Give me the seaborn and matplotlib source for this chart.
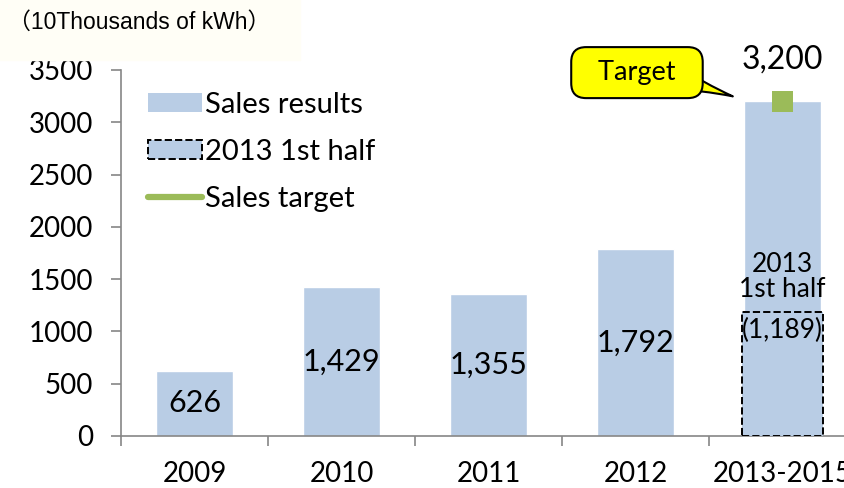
import matplotlib
matplotlib.use("Agg")
import matplotlib.pyplot as plt
from matplotlib.patches import Patch, Rectangle
from matplotlib.lines import Line2D
import pandas as pd
import seaborn as sns

categories = ["2009", "2010", "2011", "2012", "2013-2015"]
sales = [626, 1429, 1355, 1792, 3200]
sales_labels = ["626", "1,429", "1,355", "1,792", "3,200"]
half_category = "2013-2015"
half_value = 1189
half_label = "(1,189)"
target_value = 3200
y_ticks = [0, 500, 1000, 1500, 2000, 2500, 3000, 3500]

bar_color = "#B9CDE5"
green = "#9BBB59"
axis_gray = "#868686"

sns.set_theme(style="white")
plt.rcParams["font.family"] = ["Lato", "DejaVu Sans"]
plt.rcParams["text.color"] = "black"
plt.rcParams["xtick.color"] = "black"
plt.rcParams["ytick.color"] = "black"

df = pd.DataFrame({"category": categories, "sales": sales})
df_half = pd.DataFrame({"category": [half_category], "sales": [half_value]})

fig = plt.figure(figsize=(8.45, 4.88), dpi=100)
fig.patches.append(Rectangle((0, 1 - 60 / 488), 300 / 845, 60 / 488,
                             transform=fig.transFigure, color="#FFFEF6", zorder=0))
ax = fig.add_axes([121 / 845, 52 / 488, 735 / 845, 366 / 488])
ax.set_facecolor("none")

sns.barplot(data=df, x="category", y="sales", order=categories, color=bar_color,
            width=0.53, saturation=1, ax=ax, zorder=2)
sns.barplot(data=df_half, x="category", y="sales", order=categories, color=bar_color,
            width=0.55, saturation=1, ax=ax, edgecolor="black", linestyle="--",
            linewidth=1.4, zorder=3)

last = categories.index(half_category)
sns.scatterplot(x=[last], y=[target_value], marker="s", s=230, color=green,
                edgecolor="none", ax=ax, zorder=5, legend=False)

ax.set_xlim(-0.5, len(categories) - 0.5)
ax.set_ylim(0, 3500)
ax.set_yticks(y_ticks)
ax.set_xlabel("")
ax.set_ylabel("")

for s in ["top", "right"]:
    ax.spines[s].set_visible(False)
for s in ["left", "bottom"]:
    ax.spines[s].set_color(axis_gray)
    ax.spines[s].set_linewidth(1.2)

ax.tick_params(axis="y", direction="out", length=7, width=1.2, color=axis_gray,
               labelsize=20, pad=13, left=True)
ax.tick_params(axis="x", which="major", length=0, labelsize=20, pad=18)
ax.set_xticks([i - 0.5 for i in range(len(categories) + 1)], minor=True)
ax.tick_params(axis="x", which="minor", direction="out", length=7, width=1.2,
               color=axis_gray, bottom=True)

# value labels
for i, (v, lab) in enumerate(zip(sales, sales_labels)):
    if i == last:
        ax.text(i, 3600, lab, ha="center", va="center", fontsize=23, clip_on=False)
    else:
        ax.text(i, v / 2, lab, ha="center", va="center", fontsize=22, zorder=6)

ax.text(last, 1520, "2013\n1st half", ha="center", va="center", fontsize=19,
        linespacing=1.0, zorder=6)
ax.text(last, 1010, half_label, ha="center", va="center", fontsize=19, zorder=6)

# callout
ax.annotate("  Target  ", xy=(3.68, 3240), xytext=(3.01, 3475),
            ha="center", va="center", fontsize=19.5, annotation_clip=False,
            bbox=dict(boxstyle="round,pad=0.48,rounding_size=0.55", fc="#FFFF00",
                      ec="black", lw=1.5),
            arrowprops=dict(arrowstyle="wedge,tail_width=0.9,shrink_factor=0.4",
                            fc="#FFFF00", ec="black", lw=1.5, patchA=None,
                            relpos=(0.82, 0.35)),
            zorder=7)

handles = [
    Patch(facecolor=bar_color, edgecolor="none"),
    Patch(facecolor=bar_color, edgecolor="black", linestyle="--", linewidth=1.4),
    Line2D([0], [0], color=green, lw=4.5),
]
ax.legend(handles, ["Sales results", "2013 1st half", "Sales target"],
          loc="upper left", bbox_to_anchor=(148 / 845, 1 - 92 / 488),
          bbox_transform=fig.transFigure, frameon=False, fontsize=21,
          handlelength=1.85, handleheight=0.65, handletextpad=0.12,
          labelspacing=0.72, borderpad=0, borderaxespad=0)

fig.text(8 / 845, 1 - 22 / 488, "（10Thousands of kWh）", ha="left", va="center",
         fontsize=16.5, family=["Liberation Sans", "Noto Sans CJK JP"])

fig.savefig("out.png", dpi=100)
